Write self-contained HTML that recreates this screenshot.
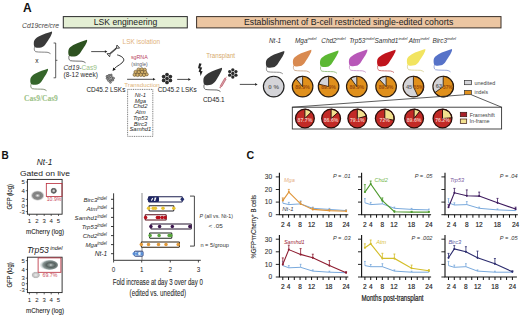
<!DOCTYPE html><html><head><meta charset="utf-8"><style>html,body{margin:0;padding:0;background:#fff;width:520px;height:315px;overflow:hidden;}svg{display:block;font-family:"Liberation Sans",sans-serif;}</style></head><body>
<svg width="520" height="315" viewBox="0 0 520 315" font-family="Liberation Sans, sans-serif">
<rect width="520" height="315" fill="#fff"/>
<text x="22.9" y="11.5" font-size="12.0" fill="#111" text-anchor="start" font-weight="bold">A</text>
<rect x="63.3" y="16.6" width="124" height="11.3" fill="#e4efd4" stroke="#2a2a2a" stroke-width="1.0"/>
<text x="93.8" y="25.1" font-size="8.6" fill="#222" text-anchor="start" textLength="63.4" lengthAdjust="spacingAndGlyphs">LSK engineering</text>
<rect x="196.6" y="16.6" width="304.4" height="11.3" fill="#ecc6a2" stroke="#3a3028" stroke-width="1.0"/>
<text x="244" y="25.1" font-size="8.6" fill="#222" text-anchor="start" textLength="209.3" lengthAdjust="spacingAndGlyphs">Establishment of B-cell restricted single-edited cohorts</text>
<text x="22" y="28.3" font-size="6.8" fill="#444" text-anchor="start" font-style="italic" textLength="37" lengthAdjust="spacingAndGlyphs">Cd19cre/cre</text>
<g transform="translate(33.7,31.6) scale(0.99,0.93)"><path d="M0.8,16.8 C0.4,19 0.5,20.6 2,21.6 C5,22.2 10,22 13.5,22.2 C15,22.4 16,23 17,23.8" fill="none" stroke="#666" stroke-width="0.85"/><path d="M18.4,0 C15,1 9,3.2 5,5.4 C2.5,7 0.8,8.5 0.3,10.5 C-0.1,12.5 0,15 0.8,16.6 C2,17.6 5,17.6 7.6,17.0 C9.2,16.5 10.4,15.5 11.4,14.3 C12.7,12.6 14.3,9.6 15.4,7.9 C16.3,6.5 17,5.2 17.6,3.8 C18.3,2.5 18.9,1 18.4,0 Z" fill="#3a3a3a"/></g>
<text x="36.9" y="63.2" font-size="6.6" fill="#222" text-anchor="middle">x</text>
<path d="M53.6,43 L55.7,43 L55.7,77.8 L53.6,77.8 M55.7,60.3 L57.4,60.3" fill="none" stroke="#333" stroke-width="0.8"/>
<g transform="translate(30.2,68.8) scale(0.96,0.92)"><path d="M0.8,16.8 C0.4,19 0.5,20.6 2,21.6 C5,22.2 10,22 13.5,22.2 C15,22.4 16,23 17,23.8" fill="none" stroke="#6a7a5a" stroke-width="0.85"/><path d="M18.4,0 C15,1 9,3.2 5,5.4 C2.5,7 0.8,8.5 0.3,10.5 C-0.1,12.5 0,15 0.8,16.6 C2,17.6 5,17.6 7.6,17.0 C9.2,16.5 10.4,15.5 11.4,14.3 C12.7,12.6 14.3,9.6 15.4,7.9 C16.3,6.5 17,5.2 17.6,3.8 C18.3,2.5 18.9,1 18.4,0 Z" fill="#35652a"/></g>
<text x="24" y="101.1" font-size="7.2" fill="#98c084" text-anchor="start" textLength="33.9" lengthAdjust="spacingAndGlyphs" font-family="Liberation Serif, serif" font-weight="bold">Cas9/Cas9</text>
<g transform="translate(68.2,39.7) scale(1.02,0.97)"><path d="M0.8,16.8 C0.4,19 0.5,20.6 2,21.6 C5,22.2 10,22 13.5,22.2 C15,22.4 16,23 17,23.8" fill="none" stroke="#555" stroke-width="0.85"/><path d="M18.4,0 C15,1 9,3.2 5,5.4 C2.5,7 0.8,8.5 0.3,10.5 C-0.1,12.5 0,15 0.8,16.6 C2,17.6 5,17.6 7.6,17.0 C9.2,16.5 10.4,15.5 11.4,14.3 C12.7,12.6 14.3,9.6 15.4,7.9 C16.3,6.5 17,5.2 17.6,3.8 C18.3,2.5 18.9,1 18.4,0 Z" fill="#2d5220"/></g>
<text x="63.6" y="70.0" font-size="6.6" fill="#333" textLength="33.3" lengthAdjust="spacingAndGlyphs"><tspan font-style="italic">Cd19-</tspan><tspan fill="#98c084">Cas9</tspan></text>
<text x="63.6" y="77.1" font-size="6.5" fill="#2a2a2a" text-anchor="start" textLength="34.3" lengthAdjust="spacingAndGlyphs">(8-12 week)</text>
<line x1="91.2" y1="51.6" x2="105.4" y2="51.6" stroke="#222" stroke-width="0.8"/>
<path d="M107.4,51.6 L104.9,50.300000000000004 L104.9,52.9 Z" fill="#222"/>
<g transform="translate(113.3,50.9) rotate(-41)"><line x1="-4" y1="0" x2="4" y2="0" stroke="#2a2a2a" stroke-width="1.5"/><path d="M-4,0 L-6.6,-2 L-6.6,2 Z" fill="#fff" stroke="#2a2a2a" stroke-width="0.8" stroke-linejoin="round"/><path d="M4,0 L6.6,-2 L6.6,2 Z" fill="#fff" stroke="#2a2a2a" stroke-width="0.8" stroke-linejoin="round"/><path d="M-2.5,-0.8 L-2.5,0.8 M-1,-0.8 L-1,0.8 M0.5,-0.8 L0.5,0.8 M2,-0.8 L2,0.8" stroke="#888" stroke-width="0.4"/></g>
<path d="M117.2,54.9 C121,55.8 124.6,58 123.6,60.8 C122.4,64 116.6,65.8 114.4,68.6" fill="none" stroke="#1a1a1a" stroke-width="0.9"/>
<path d="M112.6,71 L113.2,67.6 L115.8,69.4 Z" fill="#1a1a1a"/>
<circle cx="107.1" cy="76.4" r="1.05" fill="#9a9a9a" stroke="#2a2a2a" stroke-width="0.5"/>
<circle cx="109.1" cy="75.4" r="1.05" fill="#9a9a9a" stroke="#2a2a2a" stroke-width="0.5"/>
<circle cx="111.2" cy="75.1" r="1.05" fill="#9a9a9a" stroke="#2a2a2a" stroke-width="0.5"/>
<circle cx="107.2" cy="78.4" r="1.05" fill="#9a9a9a" stroke="#2a2a2a" stroke-width="0.5"/>
<circle cx="109.4" cy="77.8" r="1.05" fill="#9a9a9a" stroke="#2a2a2a" stroke-width="0.5"/>
<circle cx="111.6" cy="77.3" r="1.05" fill="#9a9a9a" stroke="#2a2a2a" stroke-width="0.5"/>
<circle cx="113.5" cy="78.2" r="1.05" fill="#9a9a9a" stroke="#2a2a2a" stroke-width="0.5"/>
<circle cx="108.5" cy="80.4" r="1.05" fill="#9a9a9a" stroke="#2a2a2a" stroke-width="0.5"/>
<circle cx="110.7" cy="80.3" r="1.05" fill="#9a9a9a" stroke="#2a2a2a" stroke-width="0.5"/>
<circle cx="112.7" cy="80.1" r="1.05" fill="#9a9a9a" stroke="#2a2a2a" stroke-width="0.5"/>
<circle cx="110.4" cy="82.3" r="1.05" fill="#9a9a9a" stroke="#2a2a2a" stroke-width="0.5"/>
<text x="86.4" y="91.6" font-size="6.45" fill="#222" text-anchor="start" textLength="39" lengthAdjust="spacingAndGlyphs">CD45.2 LSKs</text>
<text x="122.6" y="43.6" font-size="6.7" fill="#dfb27a" text-anchor="start" textLength="37.5" lengthAdjust="spacingAndGlyphs">LSK isolation</text>
<text x="130.9" y="59.2" font-size="5.4" fill="#b8405e" text-anchor="start" textLength="16.8" lengthAdjust="spacingAndGlyphs">sgRNA</text>
<text x="131.3" y="65.6" font-size="5.0" fill="#5a5a6a" text-anchor="start" textLength="16.4" lengthAdjust="spacingAndGlyphs">(single)</text>
<circle cx="138.6" cy="69.6" r="1.7" fill="#d2b06a" stroke="#5a4420" stroke-width="0.55"/>
<circle cx="141.8" cy="69.4" r="1.7" fill="#d2b06a" stroke="#5a4420" stroke-width="0.55"/>
<circle cx="144.8" cy="69.8" r="1.6" fill="#d2b06a" stroke="#5a4420" stroke-width="0.55"/>
<circle cx="135.6" cy="72.0" r="1.7" fill="#d2b06a" stroke="#5a4420" stroke-width="0.55"/>
<circle cx="138.8" cy="72.2" r="1.7" fill="#d2b06a" stroke="#5a4420" stroke-width="0.55"/>
<circle cx="142.0" cy="72.0" r="1.7" fill="#d2b06a" stroke="#5a4420" stroke-width="0.55"/>
<circle cx="145.2" cy="72.3" r="1.7" fill="#d2b06a" stroke="#5a4420" stroke-width="0.55"/>
<circle cx="134.6" cy="74.8" r="1.6" fill="#d2b06a" stroke="#5a4420" stroke-width="0.55"/>
<circle cx="137.6" cy="74.9" r="1.7" fill="#d2b06a" stroke="#5a4420" stroke-width="0.55"/>
<circle cx="140.8" cy="74.8" r="1.7" fill="#d2b06a" stroke="#5a4420" stroke-width="0.55"/>
<circle cx="144.0" cy="75.0" r="1.7" fill="#d2b06a" stroke="#5a4420" stroke-width="0.55"/>
<circle cx="146.8" cy="74.4" r="1.5" fill="#d2b06a" stroke="#5a4420" stroke-width="0.55"/>
<line x1="127.1" y1="79.3" x2="153.5" y2="79.3" stroke="#222" stroke-width="0.8"/>
<path d="M155.5,79.3 L153.0,78.0 L153.0,80.6 Z" fill="#222"/>
<text x="124.3" y="86.5" font-size="6.2" fill="#e0b47a" text-anchor="start" textLength="35.5" lengthAdjust="spacingAndGlyphs">Transduction</text>
<rect x="127.6" y="89.4" width="25.2" height="47" fill="none" stroke="#444" stroke-width="0.7" stroke-dasharray="1,0.8"/>
<text x="140.4" y="97.0" font-size="5.9" fill="#2a2a2a" text-anchor="middle" font-style="italic">Nt-1</text>
<text x="140.4" y="102.72" font-size="5.9" fill="#2a2a2a" text-anchor="middle" font-style="italic">Mga</text>
<text x="140.4" y="108.44" font-size="5.9" fill="#2a2a2a" text-anchor="middle" font-style="italic">Chd2</text>
<text x="140.4" y="114.16" font-size="5.9" fill="#2a2a2a" text-anchor="middle" font-style="italic">Atm</text>
<text x="140.4" y="119.88" font-size="5.9" fill="#2a2a2a" text-anchor="middle" font-style="italic">Trp53</text>
<text x="140.4" y="125.6" font-size="5.9" fill="#2a2a2a" text-anchor="middle" font-style="italic">Birc3</text>
<text x="140.4" y="131.32" font-size="5.9" fill="#2a2a2a" text-anchor="middle" font-style="italic">Samhd1</text>
<circle cx="167.0" cy="78.5" r="1.85" fill="#2e2e2e"/>
<circle cx="170.38" cy="80.45" r="1.85" fill="#2e2e2e"/>
<circle cx="167.00" cy="82.40" r="1.85" fill="#2e2e2e"/>
<circle cx="163.62" cy="80.45" r="1.85" fill="#2e2e2e"/>
<circle cx="163.62" cy="76.55" r="1.85" fill="#2e2e2e"/>
<circle cx="167.00" cy="74.60" r="1.85" fill="#2e2e2e"/>
<circle cx="170.38" cy="76.55" r="1.85" fill="#2e2e2e"/>
<text x="157.7" y="91.7" font-size="6.45" fill="#222" text-anchor="start" textLength="39.1" lengthAdjust="spacingAndGlyphs">CD45.2 LSKs</text>
<line x1="177.2" y1="79.4" x2="188.8" y2="79.4" stroke="#222" stroke-width="0.8"/>
<path d="M190.8,79.4 L188.3,78.10000000000001 L188.3,80.7 Z" fill="#222"/>
<text x="206.2" y="58.2" font-size="6.7" fill="#d6aa6c" text-anchor="start" textLength="28.9" lengthAdjust="spacingAndGlyphs">Transplant</text>
<path d="M199.2,63.3 L201.6,63.8 L200.2,67.2 L202.2,67.6 L200.8,71 L202.6,71.3 L200.6,76 L199.8,72 L198.6,71.7 L199.6,68.6 L198,68.3 Z" fill="#222"/>
<g transform="translate(203.3,67.8) scale(1.01,1.0)"><path d="M0.8,16.8 C0.4,19 0.5,20.6 2,21.6 C5,22.2 10,22 13.5,22.2 C15,22.4 16,23 17,23.8" fill="none" stroke="#505050" stroke-width="0.85"/><path d="M18.4,0 C15,1 9,3.2 5,5.4 C2.5,7 0.8,8.5 0.3,10.5 C-0.1,12.5 0,15 0.8,16.6 C2,17.6 5,17.6 7.6,17.0 C9.2,16.5 10.4,15.5 11.4,14.3 C12.7,12.6 14.3,9.6 15.4,7.9 C16.3,6.5 17,5.2 17.6,3.8 C18.3,2.5 18.9,1 18.4,0 Z" fill="#363636"/></g>
<g transform="translate(223.4,82.1) rotate(-60)"><rect x="-4.6" y="-0.85" width="8.6" height="1.7" fill="#e0a0a8" stroke="#a03848" stroke-width="0.5"/><line x1="4" y1="0" x2="6.2" y2="0" stroke="#b84050" stroke-width="0.5"/><line x1="-4.6" y1="0" x2="-6.4" y2="0" stroke="#b84050" stroke-width="0.7"/><line x1="-6.4" y1="-1" x2="-6.4" y2="1" stroke="#b84050" stroke-width="0.5"/></g>
<circle cx="232.8" cy="73.4" r="1.65" fill="#2a2a2a"/>
<circle cx="235.92" cy="75.20" r="1.65" fill="#2a2a2a"/>
<circle cx="232.80" cy="77.00" r="1.65" fill="#2a2a2a"/>
<circle cx="229.68" cy="75.20" r="1.65" fill="#2a2a2a"/>
<circle cx="229.68" cy="71.60" r="1.65" fill="#2a2a2a"/>
<circle cx="232.80" cy="69.80" r="1.65" fill="#2a2a2a"/>
<circle cx="235.92" cy="71.60" r="1.65" fill="#2a2a2a"/>
<text x="202.9" y="101.5" font-size="6.4" fill="#222" text-anchor="start" textLength="21.8" lengthAdjust="spacingAndGlyphs">CD45.1</text>
<line x1="239.8" y1="84.4" x2="255.60000000000002" y2="84.4" stroke="#222" stroke-width="0.8"/>
<path d="M257.6,84.4 L255.10000000000002,83.10000000000001 L255.10000000000002,85.7 Z" fill="#222"/>
<text x="269" y="42.6" font-size="6.4" fill="#333" text-anchor="start" font-style="italic">Nt-1</text>
<text x="295" y="42.6" font-size="6.4" fill="#333" font-style="italic">Mga<tspan font-size="4.3" dy="-2.4">indel</tspan></text>
<text x="321.3" y="42.6" font-size="6.4" fill="#333" font-style="italic">Chd2<tspan font-size="4.3" dy="-2.4">indel</tspan></text>
<text x="349.2" y="42.6" font-size="6.4" fill="#333" font-style="italic">Trp53<tspan font-size="4.3" dy="-2.4">indel</tspan></text>
<text x="374.6" y="42.6" font-size="6.4" fill="#333" font-style="italic">Samhd1<tspan font-size="4.3" dy="-2.4">indel</tspan></text>
<text x="408.8" y="42.6" font-size="6.4" fill="#333" font-style="italic">Atm<tspan font-size="4.3" dy="-2.4">indel</tspan></text>
<text x="432.4" y="42.6" font-size="6.4" fill="#333" font-style="italic">Birc3<tspan font-size="4.3" dy="-2.4">indel</tspan></text>
<g transform="translate(265.8,51.0) scale(1.0,0.96)"><path d="M0.8,16.8 C0.4,19 0.5,20.6 2,21.6 C5,22.2 10,22 13.5,22.2 C15,22.4 16,23 17,23.8" fill="none" stroke="#777" stroke-width="0.85"/><path d="M18.4,0 C15,1 9,3.2 5,5.4 C2.5,7 0.8,8.5 0.3,10.5 C-0.1,12.5 0,15 0.8,16.6 C2,17.6 5,17.6 7.6,17.0 C9.2,16.5 10.4,15.5 11.4,14.3 C12.7,12.6 14.3,9.6 15.4,7.9 C16.3,6.5 17,5.2 17.6,3.8 C18.3,2.5 18.9,1 18.4,0 Z" fill="#383838"/></g>
<g transform="translate(292.8,49.7) scale(1.0,0.96)"><path d="M0.8,16.8 C0.4,19 0.5,20.6 2,21.6 C5,22.2 10,22 13.5,22.2 C15,22.4 16,23 17,23.8" fill="none" stroke="#c8a080" stroke-width="0.85"/><path d="M18.4,0 C15,1 9,3.2 5,5.4 C2.5,7 0.8,8.5 0.3,10.5 C-0.1,12.5 0,15 0.8,16.6 C2,17.6 5,17.6 7.6,17.0 C9.2,16.5 10.4,15.5 11.4,14.3 C12.7,12.6 14.3,9.6 15.4,7.9 C16.3,6.5 17,5.2 17.6,3.8 C18.3,2.5 18.9,1 18.4,0 Z" fill="#d98a50"/></g>
<g transform="translate(319.9,50.4) scale(1.0,0.96)"><path d="M0.8,16.8 C0.4,19 0.5,20.6 2,21.6 C5,22.2 10,22 13.5,22.2 C15,22.4 16,23 17,23.8" fill="none" stroke="#88b870" stroke-width="0.85"/><path d="M18.4,0 C15,1 9,3.2 5,5.4 C2.5,7 0.8,8.5 0.3,10.5 C-0.1,12.5 0,15 0.8,16.6 C2,17.6 5,17.6 7.6,17.0 C9.2,16.5 10.4,15.5 11.4,14.3 C12.7,12.6 14.3,9.6 15.4,7.9 C16.3,6.5 17,5.2 17.6,3.8 C18.3,2.5 18.9,1 18.4,0 Z" fill="#5cb833"/></g>
<g transform="translate(348.8,49.5) scale(1.0,0.96)"><path d="M0.8,16.8 C0.4,19 0.5,20.6 2,21.6 C5,22.2 10,22 13.5,22.2 C15,22.4 16,23 17,23.8" fill="none" stroke="#c890c8" stroke-width="0.85"/><path d="M18.4,0 C15,1 9,3.2 5,5.4 C2.5,7 0.8,8.5 0.3,10.5 C-0.1,12.5 0,15 0.8,16.6 C2,17.6 5,17.6 7.6,17.0 C9.2,16.5 10.4,15.5 11.4,14.3 C12.7,12.6 14.3,9.6 15.4,7.9 C16.3,6.5 17,5.2 17.6,3.8 C18.3,2.5 18.9,1 18.4,0 Z" fill="#b858b8"/></g>
<g transform="translate(377.0,49.7) scale(1.0,0.96)"><path d="M0.8,16.8 C0.4,19 0.5,20.6 2,21.6 C5,22.2 10,22 13.5,22.2 C15,22.4 16,23 17,23.8" fill="none" stroke="#c86060" stroke-width="0.85"/><path d="M18.4,0 C15,1 9,3.2 5,5.4 C2.5,7 0.8,8.5 0.3,10.5 C-0.1,12.5 0,15 0.8,16.6 C2,17.6 5,17.6 7.6,17.0 C9.2,16.5 10.4,15.5 11.4,14.3 C12.7,12.6 14.3,9.6 15.4,7.9 C16.3,6.5 17,5.2 17.6,3.8 C18.3,2.5 18.9,1 18.4,0 Z" fill="#c0141c"/></g>
<g transform="translate(406.8,49.0) scale(1.0,0.96)"><path d="M0.8,16.8 C0.4,19 0.5,20.6 2,21.6 C5,22.2 10,22 13.5,22.2 C15,22.4 16,23 17,23.8" fill="none" stroke="#d8d090" stroke-width="0.85"/><path d="M18.4,0 C15,1 9,3.2 5,5.4 C2.5,7 0.8,8.5 0.3,10.5 C-0.1,12.5 0,15 0.8,16.6 C2,17.6 5,17.6 7.6,17.0 C9.2,16.5 10.4,15.5 11.4,14.3 C12.7,12.6 14.3,9.6 15.4,7.9 C16.3,6.5 17,5.2 17.6,3.8 C18.3,2.5 18.9,1 18.4,0 Z" fill="#f2e460"/></g>
<g transform="translate(433.5,49.0) scale(1.0,0.96)"><path d="M0.8,16.8 C0.4,19 0.5,20.6 2,21.6 C5,22.2 10,22 13.5,22.2 C15,22.4 16,23 17,23.8" fill="none" stroke="#8898d0" stroke-width="0.85"/><path d="M18.4,0 C15,1 9,3.2 5,5.4 C2.5,7 0.8,8.5 0.3,10.5 C-0.1,12.5 0,15 0.8,16.6 C2,17.6 5,17.6 7.6,17.0 C9.2,16.5 10.4,15.5 11.4,14.3 C12.7,12.6 14.3,9.6 15.4,7.9 C16.3,6.5 17,5.2 17.6,3.8 C18.3,2.5 18.9,1 18.4,0 Z" fill="#5672c8"/></g>
<circle cx="273.7" cy="86.6" r="10.3" fill="#d4d4d8"/>
<circle cx="273.7" cy="86.6" r="10.3" fill="none" stroke="#222" stroke-width="1.15"/>
<text x="273.7" y="88.69999999999999" font-size="6.2" fill="#6a6a6a" text-anchor="middle" font-weight="bold">0 %</text>
<circle cx="302.6" cy="86.6" r="10.3" fill="#e0901c"/>
<path d="M302.6,86.6 L296.03,78.66 A10.3,10.3 0 0 1 302.60,76.30 Z" fill="#d4d4d8" stroke="#2a1c10" stroke-width="0.8624999999999999" stroke-linejoin="round"/>
<circle cx="302.6" cy="86.6" r="10.3" fill="none" stroke="#2a1c10" stroke-width="1.15"/>
<text x="302.6" y="89.19999999999999" font-size="5.2" fill="#9a4a0c" text-anchor="middle" font-weight="bold">89.9%</text>
<circle cx="328.6" cy="86.6" r="10.3" fill="#e0901c"/>
<path d="M328.6,86.6 L318.62,84.04 A10.3,10.3 0 0 1 328.60,76.30 Z" fill="#d4d4d8" stroke="#2a1c10" stroke-width="0.8624999999999999" stroke-linejoin="round"/>
<circle cx="328.6" cy="86.6" r="10.3" fill="none" stroke="#2a1c10" stroke-width="1.15"/>
<text x="328.6" y="89.19999999999999" font-size="5.2" fill="#9a4a0c" text-anchor="middle" font-weight="bold">89.9%</text>
<circle cx="356.8" cy="86.6" r="10.3" fill="#e0901c"/>
<path d="M356.8,86.6 L350.75,78.27 A10.3,10.3 0 0 1 356.80,76.30 Z" fill="#d4d4d8" stroke="#2a1c10" stroke-width="0.8624999999999999" stroke-linejoin="round"/>
<circle cx="356.8" cy="86.6" r="10.3" fill="none" stroke="#2a1c10" stroke-width="1.15"/>
<text x="356.8" y="89.19999999999999" font-size="5.2" fill="#9a4a0c" text-anchor="middle" font-weight="bold">89.9%</text>
<circle cx="386.1" cy="86.6" r="10.3" fill="#e0901c"/>
<path d="M386.1,86.6 L379.05,79.09 A10.3,10.3 0 0 1 386.10,76.30 Z" fill="#d4d4d8" stroke="#2a1c10" stroke-width="0.8624999999999999" stroke-linejoin="round"/>
<circle cx="386.1" cy="86.6" r="10.3" fill="none" stroke="#2a1c10" stroke-width="1.15"/>
<text x="386.1" y="89.19999999999999" font-size="5.2" fill="#9a4a0c" text-anchor="middle" font-weight="bold">89.9%</text>
<circle cx="413.4" cy="86.6" r="10.3" fill="#d4d4d8"/>
<path d="M413.4,86.6 L413.40,76.30 A10.3,10.3 0 0 1 417.79,95.92 Z" fill="#e0901c" stroke="#2a1c10" stroke-width="0.8624999999999999" stroke-linejoin="round"/>
<circle cx="413.4" cy="86.6" r="10.3" fill="none" stroke="#2a1c10" stroke-width="1.15"/>
<text x="409.09999999999997" y="88.8" font-size="5.6" fill="#666" text-anchor="middle" font-weight="bold">45</text>
<text x="418.59999999999997" y="89.19999999999999" font-size="4.8" fill="#9a4a0c" text-anchor="middle" font-weight="bold">55%</text>
<circle cx="443.2" cy="86.6" r="10.3" fill="#d4d4d8"/>
<path d="M443.2,86.6 L443.20,76.30 A10.3,10.3 0 1 1 434.87,92.65 Z" fill="#e0901c" stroke="#2a1c10" stroke-width="0.8624999999999999" stroke-linejoin="round"/>
<circle cx="443.2" cy="86.6" r="10.3" fill="none" stroke="#2a1c10" stroke-width="1.15"/>
<text x="438.9" y="87.6" font-size="5.6" fill="#666" text-anchor="middle" font-weight="bold">63</text>
<text x="447.8" y="89.19999999999999" font-size="4.8" fill="#9a4a0c" text-anchor="middle" font-weight="bold">37%</text>
<rect x="464.4" y="80.4" width="7" height="4.3" fill="#d4d4d8" stroke="#333" stroke-width="0.7"/>
<text x="474.6" y="84.6" font-size="5.4" fill="#444" text-anchor="start" textLength="20.6" lengthAdjust="spacingAndGlyphs">unedited</text>
<rect x="464.4" y="90.4" width="7" height="4.3" fill="#e0901c" stroke="#333" stroke-width="0.7"/>
<text x="474.6" y="94.3" font-size="5.4" fill="#444" text-anchor="start" textLength="13.4" lengthAdjust="spacingAndGlyphs">indels</text>
<path d="M292.3,107.2 L464.4,94.8 M471.4,94.8 L501.6,107.2" fill="none" stroke="#333" stroke-width="0.8"/>
<rect x="292.3" y="107.2" width="209.3" height="21.8" fill="none" stroke="#333" stroke-width="0.9"/>
<circle cx="304.9" cy="118.5" r="9.4" fill="#c22a26"/>
<path d="M304.9,118.5 L304.90,109.10 A9.4,9.4 0 0 1 311.46,111.77 Z" fill="#f2e08e" stroke="#2a0e0a" stroke-width="0.9750000000000001" stroke-linejoin="round"/>
<circle cx="304.9" cy="118.5" r="9.4" fill="none" stroke="#2a0e0a" stroke-width="1.3"/>
<text x="304.9" y="122.0" font-size="5.2" fill="#f2c0b8" text-anchor="middle" font-weight="bold">87.7%</text>
<circle cx="331.1" cy="118.5" r="9.4" fill="#c22a26"/>
<path d="M331.1,118.5 L331.10,109.10 A9.4,9.4 0 0 1 338.11,112.24 Z" fill="#f2e08e" stroke="#2a0e0a" stroke-width="0.9750000000000001" stroke-linejoin="round"/>
<circle cx="331.1" cy="118.5" r="9.4" fill="none" stroke="#2a0e0a" stroke-width="1.3"/>
<text x="331.1" y="122.0" font-size="5.2" fill="#f2c0b8" text-anchor="middle" font-weight="bold">86.6%</text>
<circle cx="357.3" cy="118.5" r="9.4" fill="#c22a26"/>
<path d="M357.3,118.5 L357.30,109.10 A9.4,9.4 0 0 1 366.39,116.11 Z" fill="#f2e08e" stroke="#2a0e0a" stroke-width="0.9750000000000001" stroke-linejoin="round"/>
<circle cx="357.3" cy="118.5" r="9.4" fill="none" stroke="#2a0e0a" stroke-width="1.3"/>
<text x="357.3" y="122.0" font-size="5.2" fill="#f2c0b8" text-anchor="middle" font-weight="bold">79.1%</text>
<circle cx="384.8" cy="118.5" r="9.4" fill="#c22a26"/>
<path d="M384.8,118.5 L384.80,109.10 A9.4,9.4 0 0 1 394.03,120.26 Z" fill="#f2e08e" stroke="#2a0e0a" stroke-width="0.9750000000000001" stroke-linejoin="round"/>
<circle cx="384.8" cy="118.5" r="9.4" fill="none" stroke="#2a0e0a" stroke-width="1.3"/>
<text x="384.8" y="122.0" font-size="5.2" fill="#f2c0b8" text-anchor="middle" font-weight="bold">72%</text>
<circle cx="414.1" cy="118.5" r="9.4" fill="#c22a26"/>
<path d="M414.1,118.5 L414.10,109.10 A9.4,9.4 0 0 1 419.81,111.04 Z" fill="#f2e08e" stroke="#2a0e0a" stroke-width="0.9750000000000001" stroke-linejoin="round"/>
<circle cx="414.1" cy="118.5" r="9.4" fill="none" stroke="#2a0e0a" stroke-width="1.3"/>
<text x="414.1" y="122.0" font-size="5.2" fill="#f2c0b8" text-anchor="middle" font-weight="bold">89.6%</text>
<circle cx="442.5" cy="118.5" r="9.4" fill="#c22a26"/>
<path d="M442.5,118.5 L442.50,109.10 A9.4,9.4 0 0 1 451.87,117.79 Z" fill="#f2e08e" stroke="#2a0e0a" stroke-width="0.9750000000000001" stroke-linejoin="round"/>
<circle cx="442.5" cy="118.5" r="9.4" fill="none" stroke="#2a0e0a" stroke-width="1.3"/>
<text x="442.5" y="122.0" font-size="5.2" fill="#f2c0b8" text-anchor="middle" font-weight="bold">76.2%</text>
<rect x="460.3" y="112.3" width="6.4" height="4.4" fill="#a82028" stroke="#3a1410" stroke-width="0.7"/>
<text x="469.8" y="116.6" font-size="5.4" fill="#444" text-anchor="start" textLength="25" lengthAdjust="spacingAndGlyphs">Frameshift</text>
<rect x="460.3" y="119" width="6.4" height="4.4" fill="#f2e08e" stroke="#3a1410" stroke-width="0.7"/>
<text x="469.4" y="123.4" font-size="5.4" fill="#444" text-anchor="start" textLength="20.2" lengthAdjust="spacingAndGlyphs">In-frame</text>
<text x="1.4" y="159" font-size="10" fill="#111" text-anchor="start" font-weight="bold">B</text>
<text x="44.6" y="165.2" font-size="8.3" fill="#222" text-anchor="middle" font-style="italic">Nt-1</text>
<text x="19.9" y="175.8" font-size="8" fill="#222" text-anchor="start" textLength="50.1" lengthAdjust="spacingAndGlyphs">Gated on live</text>
<rect x="27.4" y="179.4" width="34.7" height="34.79999999999998" fill="#fff" stroke="#222" stroke-width="0.9"/>
<defs><radialGradient id="bg1"><stop offset="0" stop-color="#f4f4f4"/><stop offset="0.18" stop-color="#b8b8b8"/><stop offset="0.4" stop-color="#7e7e7e"/><stop offset="0.72" stop-color="#8a8a8a"/><stop offset="1" stop-color="#d8d8d8" stop-opacity="0.2"/></radialGradient><radialGradient id="bg2"><stop offset="0" stop-color="#e8e8e8"/><stop offset="0.3" stop-color="#b0b0b0"/><stop offset="0.55" stop-color="#5a5a5a"/><stop offset="0.8" stop-color="#7a7a7a"/><stop offset="1" stop-color="#bbb" stop-opacity="0.2"/></radialGradient><radialGradient id="bg3" cx="0.6" cy="0.5" r="0.55"><stop offset="0" stop-color="#f4f4f4"/><stop offset="0.15" stop-color="#8a9694"/><stop offset="0.45" stop-color="#56625f"/><stop offset="0.8" stop-color="#8a9896"/><stop offset="1" stop-color="#c0cccc" stop-opacity="0.5"/></radialGradient><radialGradient id="bg4"><stop offset="0" stop-color="#eee"/><stop offset="0.5" stop-color="#c8c8c8"/><stop offset="0.8" stop-color="#b8b8b8"/><stop offset="1" stop-color="#ddd" stop-opacity="0.3"/></radialGradient></defs>
<ellipse cx="37.6" cy="195.6" rx="7.0" ry="5.3" fill="url(#bg1)"/>
<ellipse cx="53.7" cy="190.8" rx="3.4" ry="3.3" fill="url(#bg2)"/>
<rect x="46.3" y="183.4" width="15.700000000000003" height="13.199999999999989" fill="none" stroke="#b82838" stroke-width="0.8"/>
<text x="46.7" y="201.4" font-size="5.2" fill="#c84858" text-anchor="start">10.9%</text>
<line x1="25.799999999999997" y1="182.0" x2="27.4" y2="182.0" stroke="#222" stroke-width="0.7"/>
<text x="24.799999999999997" y="184.1" font-size="6.0" fill="#222" text-anchor="end">5</text>
<line x1="25.799999999999997" y1="190.7" x2="27.4" y2="190.7" stroke="#222" stroke-width="0.7"/>
<text x="24.799999999999997" y="192.79999999999998" font-size="6.0" fill="#222" text-anchor="end">4</text>
<line x1="25.799999999999997" y1="199.4" x2="27.4" y2="199.4" stroke="#222" stroke-width="0.7"/>
<text x="24.799999999999997" y="201.5" font-size="6.0" fill="#222" text-anchor="end">3</text>
<line x1="25.799999999999997" y1="205.8" x2="27.4" y2="205.8" stroke="#222" stroke-width="0.7"/>
<text x="24.799999999999997" y="207.9" font-size="6.0" fill="#222" text-anchor="end">0</text>
<line x1="25.799999999999997" y1="211.6" x2="27.4" y2="211.6" stroke="#222" stroke-width="0.7"/>
<text x="24.799999999999997" y="213.7" font-size="6.0" fill="#222" text-anchor="end">-3</text>
<line x1="29.4" y1="214.2" x2="29.4" y2="216.0" stroke="#222" stroke-width="0.7"/>
<text x="29.4" y="223.39999999999998" font-size="6.0" fill="#222" text-anchor="middle">1</text>
<line x1="36.9" y1="214.2" x2="36.9" y2="216.0" stroke="#222" stroke-width="0.7"/>
<text x="36.9" y="223.39999999999998" font-size="6.0" fill="#222" text-anchor="middle">2</text>
<line x1="44.2" y1="214.2" x2="44.2" y2="216.0" stroke="#222" stroke-width="0.7"/>
<text x="44.2" y="223.39999999999998" font-size="6.0" fill="#222" text-anchor="middle">3</text>
<line x1="51.2" y1="214.2" x2="51.2" y2="216.0" stroke="#222" stroke-width="0.7"/>
<text x="51.2" y="223.39999999999998" font-size="6.0" fill="#222" text-anchor="middle">4</text>
<line x1="58.5" y1="214.2" x2="58.5" y2="216.0" stroke="#222" stroke-width="0.7"/>
<text x="58.5" y="223.39999999999998" font-size="6.0" fill="#222" text-anchor="middle">5</text>
<text x="26" y="234.29999999999998" font-size="7.4" fill="#222" text-anchor="start" textLength="38" lengthAdjust="spacingAndGlyphs" stroke="#222" stroke-width="0.1">mCherry (log)</text>
<text x="0" y="0" font-size="7.4" fill="#222" stroke="#222" stroke-width="0.1" text-anchor="middle" textLength="25.4" lengthAdjust="spacingAndGlyphs" transform="translate(11.6,196.8) rotate(-90)">GFP (log)</text>
<text x="27" y="252.7" font-size="8.6" fill="#222" font-style="italic">Trp53<tspan font-size="5.8" dy="-3.2" dx="1.4">indel</tspan></text>
<rect x="27.4" y="257.2" width="34.7" height="35.400000000000034" fill="#fff" stroke="#222" stroke-width="0.9"/>
<ellipse cx="35.8" cy="275" rx="4.4" ry="3.4" fill="url(#bg4)"/>
<ellipse cx="49.0" cy="265.0" rx="9.0" ry="4.9" fill="url(#bg3)"/>
<rect x="38.1" y="257.9" width="22.799999999999997" height="14.400000000000034" fill="none" stroke="#b82838" stroke-width="0.8"/>
<text x="42.6" y="276.8" font-size="5.2" fill="#c84858" text-anchor="start">69.7%</text>
<line x1="25.799999999999997" y1="260.6" x2="27.4" y2="260.6" stroke="#222" stroke-width="0.7"/>
<text x="24.799999999999997" y="262.70000000000005" font-size="6.0" fill="#222" text-anchor="end">5</text>
<line x1="25.799999999999997" y1="269.4" x2="27.4" y2="269.4" stroke="#222" stroke-width="0.7"/>
<text x="24.799999999999997" y="271.5" font-size="6.0" fill="#222" text-anchor="end">4</text>
<line x1="25.799999999999997" y1="278.2" x2="27.4" y2="278.2" stroke="#222" stroke-width="0.7"/>
<text x="24.799999999999997" y="280.3" font-size="6.0" fill="#222" text-anchor="end">3</text>
<line x1="25.799999999999997" y1="283.7" x2="27.4" y2="283.7" stroke="#222" stroke-width="0.7"/>
<text x="24.799999999999997" y="285.8" font-size="6.0" fill="#222" text-anchor="end">0</text>
<line x1="25.799999999999997" y1="289.4" x2="27.4" y2="289.4" stroke="#222" stroke-width="0.7"/>
<text x="24.799999999999997" y="291.5" font-size="6.0" fill="#222" text-anchor="end">-3</text>
<line x1="29.4" y1="292.6" x2="29.4" y2="294.40000000000003" stroke="#222" stroke-width="0.7"/>
<text x="29.4" y="301.8" font-size="6.0" fill="#222" text-anchor="middle">1</text>
<line x1="36.9" y1="292.6" x2="36.9" y2="294.40000000000003" stroke="#222" stroke-width="0.7"/>
<text x="36.9" y="301.8" font-size="6.0" fill="#222" text-anchor="middle">2</text>
<line x1="44.2" y1="292.6" x2="44.2" y2="294.40000000000003" stroke="#222" stroke-width="0.7"/>
<text x="44.2" y="301.8" font-size="6.0" fill="#222" text-anchor="middle">3</text>
<line x1="51.2" y1="292.6" x2="51.2" y2="294.40000000000003" stroke="#222" stroke-width="0.7"/>
<text x="51.2" y="301.8" font-size="6.0" fill="#222" text-anchor="middle">4</text>
<line x1="58.5" y1="292.6" x2="58.5" y2="294.40000000000003" stroke="#222" stroke-width="0.7"/>
<text x="58.5" y="301.8" font-size="6.0" fill="#222" text-anchor="middle">5</text>
<text x="26" y="312.70000000000005" font-size="7.4" fill="#222" text-anchor="start" textLength="38" lengthAdjust="spacingAndGlyphs" stroke="#222" stroke-width="0.1">mCherry (log)</text>
<text x="0" y="0" font-size="7.4" fill="#222" stroke="#222" stroke-width="0.1" text-anchor="middle" textLength="25.4" lengthAdjust="spacingAndGlyphs" transform="translate(11.6,274.9) rotate(-90)">GFP (log)</text>
<path d="M113.6,193.3 L113.6,260.3 L200.8,260.3" fill="none" stroke="#222" stroke-width="0.9"/>
<line x1="142.0" y1="193" x2="142.0" y2="260.3" stroke="#7a7a7a" stroke-width="0.85"/>
<line x1="111.0" y1="199.3" x2="113.6" y2="199.3" stroke="#222" stroke-width="0.9"/>
<text x="106.8" y="201.9" font-size="6.1" fill="#2a2a2a" font-style="italic" text-anchor="end">Birc3<tspan font-size="4.5" dy="-1.9">indel</tspan></text>
<line x1="111.0" y1="208.3" x2="113.6" y2="208.3" stroke="#222" stroke-width="0.9"/>
<text x="106.8" y="210.9" font-size="6.1" fill="#2a2a2a" font-style="italic" text-anchor="end">Atm<tspan font-size="4.5" dy="-1.9">indel</tspan></text>
<line x1="111.0" y1="217.4" x2="113.6" y2="217.4" stroke="#222" stroke-width="0.9"/>
<text x="106.8" y="220.0" font-size="6.1" fill="#2a2a2a" font-style="italic" text-anchor="end">Samhd1<tspan font-size="4.5" dy="-1.9">indel</tspan></text>
<line x1="111.0" y1="226.5" x2="113.6" y2="226.5" stroke="#222" stroke-width="0.9"/>
<text x="106.8" y="229.1" font-size="6.1" fill="#2a2a2a" font-style="italic" text-anchor="end">Trp53<tspan font-size="4.5" dy="-1.9">indel</tspan></text>
<line x1="111.0" y1="235.6" x2="113.6" y2="235.6" stroke="#222" stroke-width="0.9"/>
<text x="106.8" y="238.2" font-size="6.1" fill="#2a2a2a" font-style="italic" text-anchor="end">Chd2<tspan font-size="4.5" dy="-1.9">indel</tspan></text>
<line x1="111.0" y1="244.6" x2="113.6" y2="244.6" stroke="#222" stroke-width="0.9"/>
<text x="106.8" y="247.2" font-size="6.1" fill="#2a2a2a" font-style="italic" text-anchor="end">Mga<tspan font-size="4.5" dy="-1.9">indel</tspan></text>
<line x1="111.0" y1="253.7" x2="113.6" y2="253.7" stroke="#222" stroke-width="0.9"/>
<text x="107.2" y="256.4" font-size="6.6" fill="#2a2a2a" text-anchor="end" font-style="italic">Nt-1</text>
<line x1="113.6" y1="260.3" x2="113.6" y2="262.5" stroke="#222" stroke-width="0.8"/>
<text x="113.6" y="272.4" font-size="6.3" fill="#222" text-anchor="middle">0</text>
<line x1="141.7" y1="260.3" x2="141.7" y2="262.5" stroke="#222" stroke-width="0.8"/>
<text x="141.7" y="272.4" font-size="6.3" fill="#222" text-anchor="middle">1</text>
<line x1="170.3" y1="260.3" x2="170.3" y2="262.5" stroke="#222" stroke-width="0.8"/>
<text x="170.3" y="272.4" font-size="6.3" fill="#222" text-anchor="middle">2</text>
<line x1="198.4" y1="260.3" x2="198.4" y2="262.5" stroke="#222" stroke-width="0.8"/>
<text x="198.4" y="272.4" font-size="6.3" fill="#222" text-anchor="middle">3</text>
<rect x="148.6" y="196.70000000000002" width="33.70000000000002" height="5.2" rx="0.6" fill="#fff" stroke="#1c2050" stroke-width="1.05"/>
<circle cx="149.2" cy="199.3" r="1.75" fill="#26306e"/>
<circle cx="151.6" cy="199.3" r="1.75" fill="#26306e"/>
<circle cx="153.2" cy="199.3" r="1.75" fill="#26306e"/>
<circle cx="156.4" cy="199.3" r="1.75" fill="#26306e"/>
<circle cx="182.3" cy="199.3" r="1.75" fill="#26306e"/>
<rect x="149.0" y="205.70000000000002" width="24.80000000000001" height="5.2" rx="0.6" fill="#fff" stroke="#22222a" stroke-width="1.05"/>
<circle cx="148.6" cy="208.3" r="1.75" fill="#e8c230"/>
<circle cx="153.2" cy="208.3" r="1.75" fill="#e8c230"/>
<circle cx="155.4" cy="208.3" r="1.75" fill="#e8c230"/>
<circle cx="163.0" cy="208.3" r="1.75" fill="#e8c230"/>
<circle cx="173.8" cy="208.3" r="1.75" fill="#e8c230"/>
<rect x="145.2" y="214.8" width="21.0" height="5.2" rx="0.6" fill="#fff" stroke="#5a0c18" stroke-width="1.05"/>
<circle cx="145.6" cy="217.4" r="1.75" fill="#b8101c"/>
<circle cx="157.4" cy="217.4" r="1.75" fill="#b8101c"/>
<circle cx="159.0" cy="217.4" r="1.75" fill="#b8101c"/>
<circle cx="162.2" cy="217.4" r="1.75" fill="#b8101c"/>
<circle cx="165.2" cy="217.4" r="1.75" fill="#b8101c"/>
<rect x="150.9" y="223.9" width="40.400000000000006" height="5.2" rx="0.6" fill="#fff" stroke="#24142e" stroke-width="1.05"/>
<circle cx="150.9" cy="226.5" r="1.75" fill="#3e1650"/>
<circle cx="159.6" cy="226.5" r="1.75" fill="#3e1650"/>
<circle cx="172.3" cy="226.5" r="1.75" fill="#3e1650"/>
<circle cx="189.8" cy="226.5" r="1.75" fill="#3e1650"/>
<rect x="149.6" y="233.0" width="22.200000000000017" height="5.2" rx="0.6" fill="#fff" stroke="#1e261e" stroke-width="1.05"/>
<circle cx="150.1" cy="235.6" r="1.75" fill="#58a83c"/>
<circle cx="159.1" cy="235.6" r="1.75" fill="#58a83c"/>
<circle cx="169.1" cy="235.6" r="1.75" fill="#58a83c"/>
<circle cx="170.8" cy="235.6" r="1.75" fill="#58a83c"/>
<rect x="141.3" y="242.0" width="38.099999999999994" height="5.2" rx="0.6" fill="#fff" stroke="#2e2210" stroke-width="1.05"/>
<circle cx="141.3" cy="244.6" r="1.75" fill="#e39a38"/>
<circle cx="148.5" cy="244.6" r="1.75" fill="#e39a38"/>
<circle cx="158.5" cy="244.6" r="1.75" fill="#e39a38"/>
<circle cx="166.0" cy="244.6" r="1.75" fill="#e39a38"/>
<circle cx="178.2" cy="244.6" r="1.75" fill="#e39a38"/>
<rect x="148.4" y="196.60000000000002" width="10.6" height="5.4" rx="1.2" fill="#1e2664"/>
<path d="M151.2,200.9 C150.6,199.3 152.4,197.9 153.2,197.70000000000002 C153,199.3 152.4,200.5 151.2,200.9 Z" fill="#fff"/>
<path d="M154.6,197.5 L156.4,197.5 L155.2,201.10000000000002 L154.0,201.10000000000002 Z" fill="#fff"/>
<rect x="134.4" y="251.2" width="8.6" height="5.0" rx="0.8" fill="#cfe6f6" stroke="#2c3e78" stroke-width="1.0"/>
<circle cx="134.2" cy="253.7" r="1.7" fill="#5a8ed6"/>
<circle cx="137.6" cy="253.7" r="1.7" fill="#5a8ed6"/>
<circle cx="141.6" cy="253.7" r="1.7" fill="#5a8ed6"/>
<circle cx="139.4" cy="253.7" r="1.3" fill="#e8f4fc"/>
<path d="M190,196.1 L194.4,196.1 L194.4,246.1 L190,246.1" fill="none" stroke="#333" stroke-width="0.9"/>
<text x="199.6" y="218.3" font-size="5.4" fill="#333" textLength="33.3" lengthAdjust="spacingAndGlyphs"><tspan font-style="italic">P</tspan> (all vs. Nt-1)</text>
<text x="208.4" y="228.3" font-size="5.4" fill="#333" text-anchor="start" textLength="14.3" lengthAdjust="spacingAndGlyphs">&lt; .05</text>
<text x="200.4" y="247.2" font-size="5.4" fill="#333" text-anchor="start" textLength="28.5" lengthAdjust="spacingAndGlyphs">n = 5/group</text>
<text x="112.7" y="284.7" font-size="9.2" fill="#2a2a2a" text-anchor="start" textLength="90.1" lengthAdjust="spacingAndGlyphs" stroke="#2a2a2a" stroke-width="0.1">Fold increase at day 3 over day 0</text>
<text x="129.6" y="295.7" font-size="8.6" fill="#2a2a2a" text-anchor="start" textLength="56.4" lengthAdjust="spacingAndGlyphs" stroke="#2a2a2a" stroke-width="0.08">(edited vs. unedited)</text>
<text x="246.5" y="159.4" font-size="10.6" fill="#111" text-anchor="start" font-weight="bold">C</text>
<path d="M279.4,172.7 L279.4,214.7 L348.3,214.7" fill="none" stroke="#111" stroke-width="1.1"/>
<line x1="275.79999999999995" y1="214.70" x2="279.4" y2="214.70" stroke="#111" stroke-width="0.9"/>
<text x="272.2" y="217.0" font-size="6.6" fill="#333" text-anchor="end" stroke="#333" stroke-width="0.08">0</text>
<line x1="275.79999999999995" y1="202.10" x2="279.4" y2="202.10" stroke="#111" stroke-width="0.9"/>
<text x="272.2" y="204.4" font-size="6.6" fill="#333" text-anchor="end" stroke="#333" stroke-width="0.08">10</text>
<line x1="275.79999999999995" y1="189.50" x2="279.4" y2="189.50" stroke="#111" stroke-width="0.9"/>
<text x="272.2" y="191.8" font-size="6.6" fill="#333" text-anchor="end" stroke="#333" stroke-width="0.08">20</text>
<line x1="275.79999999999995" y1="176.90" x2="279.4" y2="176.90" stroke="#111" stroke-width="0.9"/>
<text x="272.2" y="179.2" font-size="6.6" fill="#333" text-anchor="end" stroke="#333" stroke-width="0.08">30</text>
<line x1="282.80" y1="214.7" x2="282.80" y2="217.7" stroke="#111" stroke-width="1.0"/>
<line x1="288.55" y1="214.7" x2="288.55" y2="217.7" stroke="#111" stroke-width="1.0"/>
<line x1="294.31" y1="214.7" x2="294.31" y2="217.7" stroke="#111" stroke-width="1.0"/>
<line x1="300.06" y1="214.7" x2="300.06" y2="217.7" stroke="#111" stroke-width="1.0"/>
<line x1="305.82" y1="214.7" x2="305.82" y2="217.7" stroke="#111" stroke-width="1.0"/>
<line x1="311.57" y1="214.7" x2="311.57" y2="217.7" stroke="#111" stroke-width="1.0"/>
<line x1="317.33" y1="214.7" x2="317.33" y2="217.7" stroke="#111" stroke-width="1.0"/>
<line x1="323.08" y1="214.7" x2="323.08" y2="217.7" stroke="#111" stroke-width="1.0"/>
<line x1="328.84" y1="214.7" x2="328.84" y2="217.7" stroke="#111" stroke-width="1.0"/>
<line x1="334.59" y1="214.7" x2="334.59" y2="217.7" stroke="#111" stroke-width="1.0"/>
<line x1="340.35" y1="214.7" x2="340.35" y2="217.7" stroke="#111" stroke-width="1.0"/>
<line x1="346.10" y1="214.7" x2="346.10" y2="217.7" stroke="#111" stroke-width="1.0"/>
<text x="282.80" y="227.1" font-size="6.5" fill="#222" text-anchor="middle" stroke="#222" stroke-width="0.15">2</text>
<text x="288.55" y="227.1" font-size="6.5" fill="#222" text-anchor="middle" stroke="#222" stroke-width="0.15">4</text>
<text x="300.06" y="227.1" font-size="6.5" fill="#222" text-anchor="middle" stroke="#222" stroke-width="0.15">8</text>
<text x="311.57" y="227.1" font-size="6.5" fill="#222" text-anchor="middle" stroke="#222" stroke-width="0.15">12</text>
<text x="328.84" y="227.1" font-size="6.5" fill="#222" text-anchor="middle" stroke="#222" stroke-width="0.15">18</text>
<text x="346.10" y="227.1" font-size="6.5" fill="#222" text-anchor="middle" stroke="#222" stroke-width="0.15">24</text>
<polyline points="282.8,203.2 288.8,204.6 300.6,203.9 312.8,208.3 329.4,209.4 346.1,210.6" fill="none" stroke="#6a9fd8" stroke-width="0.9"/>
<path d="M282.8,199.00 L282.8,203.2 M281.90000000000003,199.00 L283.7,199.00" stroke="#6a9fd8" stroke-width="0.7" fill="none"/>
<path d="M288.8,202.40 L288.8,204.6 M287.90000000000003,202.40 L289.7,202.40" stroke="#6a9fd8" stroke-width="0.7" fill="none"/>
<path d="M300.6,200.90 L300.6,203.9 M299.70000000000005,200.90 L301.5,200.90" stroke="#6a9fd8" stroke-width="0.7" fill="none"/>
<path d="M312.8,207.10 L312.8,208.3 M311.90000000000003,207.10 L313.7,207.10" stroke="#6a9fd8" stroke-width="0.7" fill="none"/>
<path d="M329.4,208.40 L329.4,209.4 M328.5,208.40 L330.29999999999995,208.40" stroke="#6a9fd8" stroke-width="0.7" fill="none"/>
<path d="M346.1,209.80 L346.1,210.6 M345.20000000000005,209.80 L347.0,209.80" stroke="#6a9fd8" stroke-width="0.7" fill="none"/>
<polyline points="282.8,200.6 288.8,192.1 300.6,203.9 312.8,209.4 329.4,210.6 346.1,211.2" fill="none" stroke="#e0963a" stroke-width="1.1"/>
<path d="M282.8,197.90 L282.8,201.40 M281.8,197.90 L283.8,197.90" stroke="#e0963a" stroke-width="0.8" fill="none"/>
<circle cx="282.8" cy="200.6" r="1.0" fill="#e0963a"/>
<path d="M288.8,189.40 L288.8,192.90 M287.8,189.40 L289.8,189.40" stroke="#e0963a" stroke-width="0.8" fill="none"/>
<circle cx="288.8" cy="192.1" r="1.0" fill="#e0963a"/>
<path d="M300.6,201.70 L300.6,204.70 M299.6,201.70 L301.6,201.70" stroke="#e0963a" stroke-width="0.8" fill="none"/>
<circle cx="300.6" cy="203.9" r="1.0" fill="#e0963a"/>
<path d="M312.8,207.90 L312.8,210.20 M311.8,207.90 L313.8,207.90" stroke="#e0963a" stroke-width="0.8" fill="none"/>
<circle cx="312.8" cy="209.4" r="1.0" fill="#e0963a"/>
<path d="M329.4,209.60 L329.4,211.40 M328.4,209.60 L330.4,209.60" stroke="#e0963a" stroke-width="0.8" fill="none"/>
<circle cx="329.4" cy="210.6" r="1.0" fill="#e0963a"/>
<path d="M346.1,210.20 L346.1,212.00 M345.1,210.20 L347.1,210.20" stroke="#e0963a" stroke-width="0.8" fill="none"/>
<circle cx="346.1" cy="211.2" r="1.0" fill="#e0963a"/>
<text x="283.9" y="181.6" font-size="5.6" fill="#e6b084" text-anchor="start" font-style="italic">Mga</text>
<text x="350.6" y="177.7" font-size="5.6" fill="#333" font-style="italic" text-anchor="end">P = .01</text>
<path d="M361.6,172.7 L361.6,214.7 L431.09999999999997,214.7" fill="none" stroke="#111" stroke-width="1.1"/>
<line x1="358.0" y1="214.70" x2="361.6" y2="214.70" stroke="#111" stroke-width="0.9"/>
<line x1="358.0" y1="202.10" x2="361.6" y2="202.10" stroke="#111" stroke-width="0.9"/>
<line x1="358.0" y1="189.50" x2="361.6" y2="189.50" stroke="#111" stroke-width="0.9"/>
<line x1="358.0" y1="176.90" x2="361.6" y2="176.90" stroke="#111" stroke-width="0.9"/>
<line x1="364.90" y1="214.7" x2="364.90" y2="217.7" stroke="#111" stroke-width="1.0"/>
<line x1="370.72" y1="214.7" x2="370.72" y2="217.7" stroke="#111" stroke-width="1.0"/>
<line x1="376.54" y1="214.7" x2="376.54" y2="217.7" stroke="#111" stroke-width="1.0"/>
<line x1="382.35" y1="214.7" x2="382.35" y2="217.7" stroke="#111" stroke-width="1.0"/>
<line x1="388.17" y1="214.7" x2="388.17" y2="217.7" stroke="#111" stroke-width="1.0"/>
<line x1="393.99" y1="214.7" x2="393.99" y2="217.7" stroke="#111" stroke-width="1.0"/>
<line x1="399.81" y1="214.7" x2="399.81" y2="217.7" stroke="#111" stroke-width="1.0"/>
<line x1="405.63" y1="214.7" x2="405.63" y2="217.7" stroke="#111" stroke-width="1.0"/>
<line x1="411.45" y1="214.7" x2="411.45" y2="217.7" stroke="#111" stroke-width="1.0"/>
<line x1="417.26" y1="214.7" x2="417.26" y2="217.7" stroke="#111" stroke-width="1.0"/>
<line x1="423.08" y1="214.7" x2="423.08" y2="217.7" stroke="#111" stroke-width="1.0"/>
<line x1="428.90" y1="214.7" x2="428.90" y2="217.7" stroke="#111" stroke-width="1.0"/>
<text x="364.90" y="227.1" font-size="6.5" fill="#222" text-anchor="middle" stroke="#222" stroke-width="0.15">2</text>
<text x="370.72" y="227.1" font-size="6.5" fill="#222" text-anchor="middle" stroke="#222" stroke-width="0.15">4</text>
<text x="382.35" y="227.1" font-size="6.5" fill="#222" text-anchor="middle" stroke="#222" stroke-width="0.15">8</text>
<text x="393.99" y="227.1" font-size="6.5" fill="#222" text-anchor="middle" stroke="#222" stroke-width="0.15">12</text>
<text x="411.45" y="227.1" font-size="6.5" fill="#222" text-anchor="middle" stroke="#222" stroke-width="0.15">18</text>
<text x="428.90" y="227.1" font-size="6.5" fill="#222" text-anchor="middle" stroke="#222" stroke-width="0.15">24</text>
<polyline points="364.9,202.8 370.7,204.6 382.4,203.9 394.4,208.3 411.6,209.4 428.9,209.9" fill="none" stroke="#6a9fd8" stroke-width="0.9"/>
<path d="M364.9,198.60 L364.9,202.8 M364.0,198.60 L365.79999999999995,198.60" stroke="#6a9fd8" stroke-width="0.7" fill="none"/>
<path d="M370.7,202.40 L370.7,204.6 M369.8,202.40 L371.59999999999997,202.40" stroke="#6a9fd8" stroke-width="0.7" fill="none"/>
<path d="M382.4,200.90 L382.4,203.9 M381.5,200.90 L383.29999999999995,200.90" stroke="#6a9fd8" stroke-width="0.7" fill="none"/>
<path d="M394.4,207.10 L394.4,208.3 M393.5,207.10 L395.29999999999995,207.10" stroke="#6a9fd8" stroke-width="0.7" fill="none"/>
<path d="M411.6,208.40 L411.6,209.4 M410.70000000000005,208.40 L412.5,208.40" stroke="#6a9fd8" stroke-width="0.7" fill="none"/>
<path d="M428.9,209.10 L428.9,209.9 M428.0,209.10 L429.79999999999995,209.10" stroke="#6a9fd8" stroke-width="0.7" fill="none"/>
<polyline points="364.9,192.1 370.7,183.9 382.4,200.6 394.4,211.7 411.6,212.1 428.9,212.1" fill="none" stroke="#4e9a2e" stroke-width="1.1"/>
<path d="M364.9,184.60 L364.9,192.90 M363.9,184.60 L365.9,184.60" stroke="#4e9a2e" stroke-width="0.8" fill="none"/>
<circle cx="364.9" cy="192.1" r="1.0" fill="#4e9a2e"/>
<path d="M370.7,181.00 L370.7,184.70 M369.7,181.00 L371.7,181.00" stroke="#4e9a2e" stroke-width="0.8" fill="none"/>
<circle cx="370.7" cy="183.9" r="1.0" fill="#4e9a2e"/>
<path d="M382.4,197.90 L382.4,201.40 M381.4,197.90 L383.4,197.90" stroke="#4e9a2e" stroke-width="0.8" fill="none"/>
<circle cx="382.4" cy="200.6" r="1.0" fill="#4e9a2e"/>
<path d="M394.4,210.70 L394.4,212.50 M393.4,210.70 L395.4,210.70" stroke="#4e9a2e" stroke-width="0.8" fill="none"/>
<circle cx="394.4" cy="211.7" r="1.0" fill="#4e9a2e"/>
<path d="M411.6,211.30 L411.6,212.90 M410.6,211.30 L412.6,211.30" stroke="#4e9a2e" stroke-width="0.8" fill="none"/>
<circle cx="411.6" cy="212.1" r="1.0" fill="#4e9a2e"/>
<path d="M428.9,211.30 L428.9,212.90 M427.9,211.30 L429.9,211.30" stroke="#4e9a2e" stroke-width="0.8" fill="none"/>
<circle cx="428.9" cy="212.1" r="1.0" fill="#4e9a2e"/>
<text x="374.4" y="181.6" font-size="5.6" fill="#78b850" text-anchor="start" font-style="italic">Chd2</text>
<text x="432.4" y="177.7" font-size="5.6" fill="#333" font-style="italic" text-anchor="end">P = .05</text>
<path d="M445.0,172.7 L445.0,214.7 L517.8000000000001,214.7" fill="none" stroke="#111" stroke-width="1.1"/>
<line x1="441.4" y1="214.70" x2="445.0" y2="214.70" stroke="#111" stroke-width="0.9"/>
<line x1="441.4" y1="202.10" x2="445.0" y2="202.10" stroke="#111" stroke-width="0.9"/>
<line x1="441.4" y1="189.50" x2="445.0" y2="189.50" stroke="#111" stroke-width="0.9"/>
<line x1="441.4" y1="176.90" x2="445.0" y2="176.90" stroke="#111" stroke-width="0.9"/>
<line x1="448.50" y1="214.7" x2="448.50" y2="217.7" stroke="#111" stroke-width="1.0"/>
<line x1="454.60" y1="214.7" x2="454.60" y2="217.7" stroke="#111" stroke-width="1.0"/>
<line x1="460.70" y1="214.7" x2="460.70" y2="217.7" stroke="#111" stroke-width="1.0"/>
<line x1="466.80" y1="214.7" x2="466.80" y2="217.7" stroke="#111" stroke-width="1.0"/>
<line x1="472.90" y1="214.7" x2="472.90" y2="217.7" stroke="#111" stroke-width="1.0"/>
<line x1="479.00" y1="214.7" x2="479.00" y2="217.7" stroke="#111" stroke-width="1.0"/>
<line x1="485.10" y1="214.7" x2="485.10" y2="217.7" stroke="#111" stroke-width="1.0"/>
<line x1="491.20" y1="214.7" x2="491.20" y2="217.7" stroke="#111" stroke-width="1.0"/>
<line x1="497.30" y1="214.7" x2="497.30" y2="217.7" stroke="#111" stroke-width="1.0"/>
<line x1="503.40" y1="214.7" x2="503.40" y2="217.7" stroke="#111" stroke-width="1.0"/>
<line x1="509.50" y1="214.7" x2="509.50" y2="217.7" stroke="#111" stroke-width="1.0"/>
<line x1="515.60" y1="214.7" x2="515.60" y2="217.7" stroke="#111" stroke-width="1.0"/>
<text x="448.50" y="227.1" font-size="6.5" fill="#222" text-anchor="middle" stroke="#222" stroke-width="0.15">2</text>
<text x="454.60" y="227.1" font-size="6.5" fill="#222" text-anchor="middle" stroke="#222" stroke-width="0.15">4</text>
<text x="466.80" y="227.1" font-size="6.5" fill="#222" text-anchor="middle" stroke="#222" stroke-width="0.15">8</text>
<text x="479.00" y="227.1" font-size="6.5" fill="#222" text-anchor="middle" stroke="#222" stroke-width="0.15">12</text>
<text x="497.30" y="227.1" font-size="6.5" fill="#222" text-anchor="middle" stroke="#222" stroke-width="0.15">18</text>
<text x="515.60" y="227.1" font-size="6.5" fill="#222" text-anchor="middle" stroke="#222" stroke-width="0.15">24</text>
<polyline points="448.5,202.8 454.4,205.0 466.8,204.6 479.2,208.3 497.5,209.9 515.6,210.6" fill="none" stroke="#6a9fd8" stroke-width="0.9"/>
<path d="M448.5,198.60 L448.5,202.8 M447.6,198.60 L449.4,198.60" stroke="#6a9fd8" stroke-width="0.7" fill="none"/>
<path d="M454.4,202.80 L454.4,205.0 M453.5,202.80 L455.29999999999995,202.80" stroke="#6a9fd8" stroke-width="0.7" fill="none"/>
<path d="M466.8,201.60 L466.8,204.6 M465.90000000000003,201.60 L467.7,201.60" stroke="#6a9fd8" stroke-width="0.7" fill="none"/>
<path d="M479.2,207.10 L479.2,208.3 M478.3,207.10 L480.09999999999997,207.10" stroke="#6a9fd8" stroke-width="0.7" fill="none"/>
<path d="M497.5,208.90 L497.5,209.9 M496.6,208.90 L498.4,208.90" stroke="#6a9fd8" stroke-width="0.7" fill="none"/>
<path d="M515.6,209.80 L515.6,210.6 M514.7,209.80 L516.5,209.80" stroke="#6a9fd8" stroke-width="0.7" fill="none"/>
<polyline points="448.5,207.2 454.4,192.8 466.8,195.7 479.2,196.1 497.5,202.8 515.6,209.0" fill="none" stroke="#3d1a5e" stroke-width="1.1"/>
<path d="M448.5,204.70 L448.5,208.00 M447.5,204.70 L449.5,204.70" stroke="#3d1a5e" stroke-width="0.8" fill="none"/>
<circle cx="448.5" cy="207.2" r="1.0" fill="#3d1a5e"/>
<path d="M454.4,188.40 L454.4,193.60 M453.4,188.40 L455.4,188.40" stroke="#3d1a5e" stroke-width="0.8" fill="none"/>
<circle cx="454.4" cy="192.8" r="1.0" fill="#3d1a5e"/>
<path d="M466.8,189.90 L466.8,196.50 M465.8,189.90 L467.8,189.90" stroke="#3d1a5e" stroke-width="0.8" fill="none"/>
<circle cx="466.8" cy="195.7" r="1.0" fill="#3d1a5e"/>
<path d="M479.2,192.10 L479.2,196.90 M478.2,192.10 L480.2,192.10" stroke="#3d1a5e" stroke-width="0.8" fill="none"/>
<circle cx="479.2" cy="196.1" r="1.0" fill="#3d1a5e"/>
<path d="M497.5,198.40 L497.5,203.60 M496.5,198.40 L498.5,198.40" stroke="#3d1a5e" stroke-width="0.8" fill="none"/>
<circle cx="497.5" cy="202.8" r="1.0" fill="#3d1a5e"/>
<path d="M515.6,207.20 L515.6,209.80 M514.6,207.20 L516.6,207.20" stroke="#3d1a5e" stroke-width="0.8" fill="none"/>
<circle cx="515.6" cy="209.0" r="1.0" fill="#3d1a5e"/>
<text x="450.0" y="181.6" font-size="5.6" fill="#7a58a0" text-anchor="start" font-style="italic">Trp53</text>
<text x="517.5" y="177.7" font-size="5.6" fill="#333" font-style="italic" text-anchor="end">P = .04</text>
<path d="M279.4,235.0 L279.4,277.0 L348.3,277.0" fill="none" stroke="#111" stroke-width="1.1"/>
<line x1="275.79999999999995" y1="277.00" x2="279.4" y2="277.00" stroke="#111" stroke-width="0.9"/>
<text x="272.2" y="279.3" font-size="6.6" fill="#333" text-anchor="end" stroke="#333" stroke-width="0.08">0</text>
<line x1="275.79999999999995" y1="264.40" x2="279.4" y2="264.40" stroke="#111" stroke-width="0.9"/>
<text x="272.2" y="266.7" font-size="6.6" fill="#333" text-anchor="end" stroke="#333" stroke-width="0.08">10</text>
<line x1="275.79999999999995" y1="251.80" x2="279.4" y2="251.80" stroke="#111" stroke-width="0.9"/>
<text x="272.2" y="254.10000000000002" font-size="6.6" fill="#333" text-anchor="end" stroke="#333" stroke-width="0.08">20</text>
<line x1="275.79999999999995" y1="239.20" x2="279.4" y2="239.20" stroke="#111" stroke-width="0.9"/>
<text x="272.2" y="241.5" font-size="6.6" fill="#333" text-anchor="end" stroke="#333" stroke-width="0.08">30</text>
<line x1="282.80" y1="277.0" x2="282.80" y2="280.0" stroke="#111" stroke-width="1.0"/>
<line x1="288.55" y1="277.0" x2="288.55" y2="280.0" stroke="#111" stroke-width="1.0"/>
<line x1="294.31" y1="277.0" x2="294.31" y2="280.0" stroke="#111" stroke-width="1.0"/>
<line x1="300.06" y1="277.0" x2="300.06" y2="280.0" stroke="#111" stroke-width="1.0"/>
<line x1="305.82" y1="277.0" x2="305.82" y2="280.0" stroke="#111" stroke-width="1.0"/>
<line x1="311.57" y1="277.0" x2="311.57" y2="280.0" stroke="#111" stroke-width="1.0"/>
<line x1="317.33" y1="277.0" x2="317.33" y2="280.0" stroke="#111" stroke-width="1.0"/>
<line x1="323.08" y1="277.0" x2="323.08" y2="280.0" stroke="#111" stroke-width="1.0"/>
<line x1="328.84" y1="277.0" x2="328.84" y2="280.0" stroke="#111" stroke-width="1.0"/>
<line x1="334.59" y1="277.0" x2="334.59" y2="280.0" stroke="#111" stroke-width="1.0"/>
<line x1="340.35" y1="277.0" x2="340.35" y2="280.0" stroke="#111" stroke-width="1.0"/>
<line x1="346.10" y1="277.0" x2="346.10" y2="280.0" stroke="#111" stroke-width="1.0"/>
<text x="282.80" y="289.4" font-size="6.5" fill="#222" text-anchor="middle" stroke="#222" stroke-width="0.15">2</text>
<text x="288.55" y="289.4" font-size="6.5" fill="#222" text-anchor="middle" stroke="#222" stroke-width="0.15">4</text>
<text x="300.06" y="289.4" font-size="6.5" fill="#222" text-anchor="middle" stroke="#222" stroke-width="0.15">8</text>
<text x="311.57" y="289.4" font-size="6.5" fill="#222" text-anchor="middle" stroke="#222" stroke-width="0.15">12</text>
<text x="328.84" y="289.4" font-size="6.5" fill="#222" text-anchor="middle" stroke="#222" stroke-width="0.15">18</text>
<text x="346.10" y="289.4" font-size="6.5" fill="#222" text-anchor="middle" stroke="#222" stroke-width="0.15">24</text>
<polyline points="282.8,265.6 288.8,267.8 300.6,267.3 312.8,271.1 329.4,272.2 346.1,272.7" fill="none" stroke="#6a9fd8" stroke-width="0.9"/>
<path d="M282.8,261.40 L282.8,265.6 M281.90000000000003,261.40 L283.7,261.40" stroke="#6a9fd8" stroke-width="0.7" fill="none"/>
<path d="M288.8,265.60 L288.8,267.8 M287.90000000000003,265.60 L289.7,265.60" stroke="#6a9fd8" stroke-width="0.7" fill="none"/>
<path d="M300.6,264.30 L300.6,267.3 M299.70000000000005,264.30 L301.5,264.30" stroke="#6a9fd8" stroke-width="0.7" fill="none"/>
<path d="M312.8,269.90 L312.8,271.1 M311.90000000000003,269.90 L313.7,269.90" stroke="#6a9fd8" stroke-width="0.7" fill="none"/>
<path d="M329.4,271.20 L329.4,272.2 M328.5,271.20 L330.29999999999995,271.20" stroke="#6a9fd8" stroke-width="0.7" fill="none"/>
<path d="M346.1,271.90 L346.1,272.7 M345.20000000000005,271.90 L347.0,271.90" stroke="#6a9fd8" stroke-width="0.7" fill="none"/>
<polyline points="282.8,264.4 288.8,249.6 300.6,254.4 312.8,257.8 329.4,265.6 346.1,272.7" fill="none" stroke="#8e1c30" stroke-width="1.1"/>
<path d="M282.8,257.90 L282.8,265.20 M281.8,257.90 L283.8,257.90" stroke="#8e1c30" stroke-width="0.8" fill="none"/>
<circle cx="282.8" cy="264.4" r="1.0" fill="#8e1c30"/>
<path d="M288.8,245.20 L288.8,250.40 M287.8,245.20 L289.8,245.20" stroke="#8e1c30" stroke-width="0.8" fill="none"/>
<circle cx="288.8" cy="249.6" r="1.0" fill="#8e1c30"/>
<path d="M300.6,248.60 L300.6,255.20 M299.6,248.60 L301.6,248.60" stroke="#8e1c30" stroke-width="0.8" fill="none"/>
<circle cx="300.6" cy="254.4" r="1.0" fill="#8e1c30"/>
<path d="M312.8,254.20 L312.8,258.60 M311.8,254.20 L313.8,254.20" stroke="#8e1c30" stroke-width="0.8" fill="none"/>
<circle cx="312.8" cy="257.8" r="1.0" fill="#8e1c30"/>
<path d="M329.4,260.50 L329.4,266.40 M328.4,260.50 L330.4,260.50" stroke="#8e1c30" stroke-width="0.8" fill="none"/>
<circle cx="329.4" cy="265.6" r="1.0" fill="#8e1c30"/>
<path d="M346.1,271.70 L346.1,273.50 M345.1,271.70 L347.1,271.70" stroke="#8e1c30" stroke-width="0.8" fill="none"/>
<circle cx="346.1" cy="272.7" r="1.0" fill="#8e1c30"/>
<text x="283.9" y="243.9" font-size="5.6" fill="#a02a40" text-anchor="start" font-style="italic">Samhd1</text>
<text x="350.6" y="240.0" font-size="5.6" fill="#333" font-style="italic" text-anchor="end">P = .03</text>
<path d="M361.6,235.0 L361.6,277.0 L431.09999999999997,277.0" fill="none" stroke="#111" stroke-width="1.1"/>
<line x1="358.0" y1="277.00" x2="361.6" y2="277.00" stroke="#111" stroke-width="0.9"/>
<line x1="358.0" y1="264.40" x2="361.6" y2="264.40" stroke="#111" stroke-width="0.9"/>
<line x1="358.0" y1="251.80" x2="361.6" y2="251.80" stroke="#111" stroke-width="0.9"/>
<line x1="358.0" y1="239.20" x2="361.6" y2="239.20" stroke="#111" stroke-width="0.9"/>
<line x1="364.90" y1="277.0" x2="364.90" y2="280.0" stroke="#111" stroke-width="1.0"/>
<line x1="370.72" y1="277.0" x2="370.72" y2="280.0" stroke="#111" stroke-width="1.0"/>
<line x1="376.54" y1="277.0" x2="376.54" y2="280.0" stroke="#111" stroke-width="1.0"/>
<line x1="382.35" y1="277.0" x2="382.35" y2="280.0" stroke="#111" stroke-width="1.0"/>
<line x1="388.17" y1="277.0" x2="388.17" y2="280.0" stroke="#111" stroke-width="1.0"/>
<line x1="393.99" y1="277.0" x2="393.99" y2="280.0" stroke="#111" stroke-width="1.0"/>
<line x1="399.81" y1="277.0" x2="399.81" y2="280.0" stroke="#111" stroke-width="1.0"/>
<line x1="405.63" y1="277.0" x2="405.63" y2="280.0" stroke="#111" stroke-width="1.0"/>
<line x1="411.45" y1="277.0" x2="411.45" y2="280.0" stroke="#111" stroke-width="1.0"/>
<line x1="417.26" y1="277.0" x2="417.26" y2="280.0" stroke="#111" stroke-width="1.0"/>
<line x1="423.08" y1="277.0" x2="423.08" y2="280.0" stroke="#111" stroke-width="1.0"/>
<line x1="428.90" y1="277.0" x2="428.90" y2="280.0" stroke="#111" stroke-width="1.0"/>
<text x="364.90" y="289.4" font-size="6.5" fill="#222" text-anchor="middle" stroke="#222" stroke-width="0.15">2</text>
<text x="370.72" y="289.4" font-size="6.5" fill="#222" text-anchor="middle" stroke="#222" stroke-width="0.15">4</text>
<text x="382.35" y="289.4" font-size="6.5" fill="#222" text-anchor="middle" stroke="#222" stroke-width="0.15">8</text>
<text x="393.99" y="289.4" font-size="6.5" fill="#222" text-anchor="middle" stroke="#222" stroke-width="0.15">12</text>
<text x="411.45" y="289.4" font-size="6.5" fill="#222" text-anchor="middle" stroke="#222" stroke-width="0.15">18</text>
<text x="428.90" y="289.4" font-size="6.5" fill="#222" text-anchor="middle" stroke="#222" stroke-width="0.15">24</text>
<polyline points="364.9,265.6 370.7,266.7 382.4,266.7 394.4,271.1 411.6,272.2 428.9,272.2" fill="none" stroke="#6a9fd8" stroke-width="0.9"/>
<path d="M364.9,261.40 L364.9,265.6 M364.0,261.40 L365.79999999999995,261.40" stroke="#6a9fd8" stroke-width="0.7" fill="none"/>
<path d="M370.7,264.50 L370.7,266.7 M369.8,264.50 L371.59999999999997,264.50" stroke="#6a9fd8" stroke-width="0.7" fill="none"/>
<path d="M382.4,263.70 L382.4,266.7 M381.5,263.70 L383.29999999999995,263.70" stroke="#6a9fd8" stroke-width="0.7" fill="none"/>
<path d="M394.4,269.90 L394.4,271.1 M393.5,269.90 L395.29999999999995,269.90" stroke="#6a9fd8" stroke-width="0.7" fill="none"/>
<path d="M411.6,271.20 L411.6,272.2 M410.70000000000005,271.20 L412.5,271.20" stroke="#6a9fd8" stroke-width="0.7" fill="none"/>
<path d="M428.9,271.40 L428.9,272.2 M428.0,271.40 L429.79999999999995,271.40" stroke="#6a9fd8" stroke-width="0.7" fill="none"/>
<polyline points="364.9,247.8 370.7,243.8 382.4,258.4 394.4,258.4 411.6,268.2 428.9,270.7" fill="none" stroke="#d4be2a" stroke-width="1.1"/>
<path d="M364.9,243.80 L364.9,248.60 M363.9,243.80 L365.9,243.80" stroke="#d4be2a" stroke-width="0.8" fill="none"/>
<circle cx="364.9" cy="247.8" r="1.0" fill="#d4be2a"/>
<path d="M370.7,240.00 L370.7,244.60 M369.7,240.00 L371.7,240.00" stroke="#d4be2a" stroke-width="0.8" fill="none"/>
<circle cx="370.7" cy="243.8" r="1.0" fill="#d4be2a"/>
<path d="M382.4,253.30 L382.4,259.20 M381.4,253.30 L383.4,253.30" stroke="#d4be2a" stroke-width="0.8" fill="none"/>
<circle cx="382.4" cy="258.4" r="1.0" fill="#d4be2a"/>
<path d="M394.4,254.00 L394.4,259.20 M393.4,254.00 L395.4,254.00" stroke="#d4be2a" stroke-width="0.8" fill="none"/>
<circle cx="394.4" cy="258.4" r="1.0" fill="#d4be2a"/>
<path d="M411.6,265.10 L411.6,269.00 M410.6,265.10 L412.6,265.10" stroke="#d4be2a" stroke-width="0.8" fill="none"/>
<circle cx="411.6" cy="268.2" r="1.0" fill="#d4be2a"/>
<path d="M428.9,269.60 L428.9,271.50 M427.9,269.60 L429.9,269.60" stroke="#d4be2a" stroke-width="0.8" fill="none"/>
<circle cx="428.9" cy="270.7" r="1.0" fill="#d4be2a"/>
<text x="376.2" y="243.9" font-size="5.6" fill="#d8c040" text-anchor="start" font-style="italic">Atm</text>
<text x="432.4" y="240.0" font-size="5.6" fill="#333" font-style="italic" text-anchor="end">P = .002</text>
<path d="M445.0,235.0 L445.0,277.0 L516.9,277.0" fill="none" stroke="#111" stroke-width="1.1"/>
<line x1="441.4" y1="277.00" x2="445.0" y2="277.00" stroke="#111" stroke-width="0.9"/>
<line x1="441.4" y1="264.40" x2="445.0" y2="264.40" stroke="#111" stroke-width="0.9"/>
<line x1="441.4" y1="251.80" x2="445.0" y2="251.80" stroke="#111" stroke-width="0.9"/>
<line x1="441.4" y1="239.20" x2="445.0" y2="239.20" stroke="#111" stroke-width="0.9"/>
<line x1="448.50" y1="277.0" x2="448.50" y2="280.0" stroke="#111" stroke-width="1.0"/>
<line x1="454.31" y1="277.0" x2="454.31" y2="280.0" stroke="#111" stroke-width="1.0"/>
<line x1="460.12" y1="277.0" x2="460.12" y2="280.0" stroke="#111" stroke-width="1.0"/>
<line x1="465.93" y1="277.0" x2="465.93" y2="280.0" stroke="#111" stroke-width="1.0"/>
<line x1="471.74" y1="277.0" x2="471.74" y2="280.0" stroke="#111" stroke-width="1.0"/>
<line x1="477.55" y1="277.0" x2="477.55" y2="280.0" stroke="#111" stroke-width="1.0"/>
<line x1="483.35" y1="277.0" x2="483.35" y2="280.0" stroke="#111" stroke-width="1.0"/>
<line x1="489.16" y1="277.0" x2="489.16" y2="280.0" stroke="#111" stroke-width="1.0"/>
<line x1="494.97" y1="277.0" x2="494.97" y2="280.0" stroke="#111" stroke-width="1.0"/>
<line x1="500.78" y1="277.0" x2="500.78" y2="280.0" stroke="#111" stroke-width="1.0"/>
<line x1="506.59" y1="277.0" x2="506.59" y2="280.0" stroke="#111" stroke-width="1.0"/>
<line x1="512.40" y1="277.0" x2="512.40" y2="280.0" stroke="#111" stroke-width="1.0"/>
<text x="448.50" y="289.4" font-size="6.5" fill="#222" text-anchor="middle" stroke="#222" stroke-width="0.15">2</text>
<text x="454.31" y="289.4" font-size="6.5" fill="#222" text-anchor="middle" stroke="#222" stroke-width="0.15">4</text>
<text x="465.93" y="289.4" font-size="6.5" fill="#222" text-anchor="middle" stroke="#222" stroke-width="0.15">8</text>
<text x="477.55" y="289.4" font-size="6.5" fill="#222" text-anchor="middle" stroke="#222" stroke-width="0.15">12</text>
<text x="494.97" y="289.4" font-size="6.5" fill="#222" text-anchor="middle" stroke="#222" stroke-width="0.15">18</text>
<text x="512.40" y="289.4" font-size="6.5" fill="#222" text-anchor="middle" stroke="#222" stroke-width="0.15">24</text>
<polyline points="448.5,265.6 454.3,267.3 465.9,266.7 477.5,271.1 494.9,272.2 512.4,272.2" fill="none" stroke="#6a9fd8" stroke-width="0.9"/>
<path d="M448.5,261.40 L448.5,265.6 M447.6,261.40 L449.4,261.40" stroke="#6a9fd8" stroke-width="0.7" fill="none"/>
<path d="M454.3,265.10 L454.3,267.3 M453.40000000000003,265.10 L455.2,265.10" stroke="#6a9fd8" stroke-width="0.7" fill="none"/>
<path d="M465.9,263.70 L465.9,266.7 M465.0,263.70 L466.79999999999995,263.70" stroke="#6a9fd8" stroke-width="0.7" fill="none"/>
<path d="M477.5,269.90 L477.5,271.1 M476.6,269.90 L478.4,269.90" stroke="#6a9fd8" stroke-width="0.7" fill="none"/>
<path d="M494.9,271.20 L494.9,272.2 M494.0,271.20 L495.79999999999995,271.20" stroke="#6a9fd8" stroke-width="0.7" fill="none"/>
<path d="M512.4,271.40 L512.4,272.2 M511.5,271.40 L513.3,271.40" stroke="#6a9fd8" stroke-width="0.7" fill="none"/>
<polyline points="448.5,257.8 454.3,248.9 465.9,251.8 477.5,257.8 494.9,263.8 512.4,271.8" fill="none" stroke="#2c2c6e" stroke-width="1.1"/>
<path d="M448.5,253.40 L448.5,258.60 M447.5,253.40 L449.5,253.40" stroke="#2c2c6e" stroke-width="0.8" fill="none"/>
<circle cx="448.5" cy="257.8" r="1.0" fill="#2c2c6e"/>
<path d="M454.3,245.60 L454.3,249.70 M453.3,245.60 L455.3,245.60" stroke="#2c2c6e" stroke-width="0.8" fill="none"/>
<circle cx="454.3" cy="248.9" r="1.0" fill="#2c2c6e"/>
<path d="M465.9,246.70 L465.9,252.60 M464.9,246.70 L466.9,246.70" stroke="#2c2c6e" stroke-width="0.8" fill="none"/>
<circle cx="465.9" cy="251.8" r="1.0" fill="#2c2c6e"/>
<path d="M477.5,251.10 L477.5,258.60 M476.5,251.10 L478.5,251.10" stroke="#2c2c6e" stroke-width="0.8" fill="none"/>
<circle cx="477.5" cy="257.8" r="1.0" fill="#2c2c6e"/>
<path d="M494.9,258.50 L494.9,264.60 M493.9,258.50 L495.9,258.50" stroke="#2c2c6e" stroke-width="0.8" fill="none"/>
<circle cx="494.9" cy="263.8" r="1.0" fill="#2c2c6e"/>
<path d="M512.4,270.80 L512.4,272.60 M511.4,270.80 L513.4,270.80" stroke="#2c2c6e" stroke-width="0.8" fill="none"/>
<circle cx="512.4" cy="271.8" r="1.0" fill="#2c2c6e"/>
<text x="448.4" y="243.9" font-size="5.6" fill="#5a5aa0" text-anchor="start" font-style="italic">Birc3</text>
<text x="517.5" y="240.0" font-size="5.6" fill="#333" font-style="italic" text-anchor="end">P = .05</text>
<text x="282.2" y="211.2" font-size="6.0" fill="#3a3a48" text-anchor="start" font-style="italic">Nt-1</text>
<text x="0" y="0" font-size="7.6" fill="#222" stroke="#222" stroke-width="0.08" text-anchor="middle" textLength="63.5" lengthAdjust="spacingAndGlyphs" transform="translate(256.0,226.8) rotate(-90)">%GFP<tspan font-size="4.6" dy="-2.4">+</tspan><tspan dy="2.4">mCherry</tspan><tspan font-size="4.6" dy="-2.4">+</tspan><tspan dy="2.4"> B cells</tspan></text>
<text x="361.5" y="301.1" font-size="8.2" fill="#222" text-anchor="start" textLength="62" lengthAdjust="spacingAndGlyphs" stroke="#222" stroke-width="0.22">Months post-transplant</text>
</svg></body></html>
